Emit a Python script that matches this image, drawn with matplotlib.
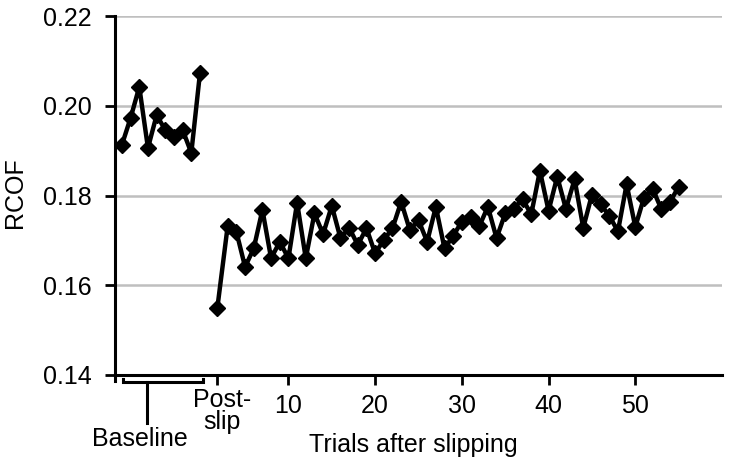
import numpy as np
import matplotlib
matplotlib.use("Agg")
import matplotlib.pyplot as plt
from matplotlib.transforms import blended_transform_factory

plt.rcParams['font.family'] = ['Liberation Sans', 'DejaVu Sans']

# ---- data ----
baseline_vals = [0.1913, 0.1973, 0.2042, 0.1906, 0.1979, 0.1946, 0.1930, 0.1946, 0.1895, 0.2073]
postslip_val = 0.1549
trial_vals = [0.1733, 0.1719, 0.1641, 0.1682, 0.1768, 0.1660, 0.1697, 0.1660, 0.1784, 0.1660,
              0.1760, 0.1714, 0.1777, 0.1705, 0.1728, 0.1690, 0.1727, 0.1671, 0.1701, 0.1727,
              0.1786, 0.1723, 0.1745, 0.1697, 0.1775, 0.1682, 0.1710, 0.1742, 0.1753, 0.1731,
              0.1775, 0.1705, 0.1760, 0.1771, 0.1792, 0.1758, 0.1855, 0.1766, 0.1842, 0.1770,
              0.1836, 0.1728, 0.1802, 0.1780, 0.1755, 0.1720, 0.1825, 0.1730, 0.1795, 0.1815,
              0.1770, 0.1785, 0.1820]
yticks = [0.14, 0.16, 0.18, 0.20, 0.22]
ytick_labels = ['0.14', '0.16', '0.18', '0.20', '0.22']
xticks_num = [10, 20, 30, 40, 50]
xtick_labels = ['10', '20', '30', '40', '50']

# positions
baseline_x = np.arange(len(baseline_vals)) - 9.2
postslip_x = 1.8
trial_x = np.arange(len(trial_vals)) + 3

W, H = 729, 467
fig = plt.figure(figsize=(W / 100, H / 100), dpi=100)
ax = fig.add_axes([115 / W, 1 - 375 / H, (722 - 115) / W, (375 - 16) / H])

ax.set_xlim(-10, 60)
ax.set_ylim(0.14, 0.22)

for y in [0.16, 0.18, 0.20, 0.22]:
    ax.axhline(y, color='#bfbfbf', lw=1.8, zorder=1)

lkw = dict(color='black', lw=3.2, marker='D', markersize=8.5, zorder=3)
ax.plot(baseline_x, baseline_vals, **lkw)
ax.plot(np.concatenate([[postslip_x], trial_x]), [postslip_val] + trial_vals, **lkw)

for s in ['top', 'right']:
    ax.spines[s].set_visible(False)
for s in ['left', 'bottom']:
    ax.spines[s].set_linewidth(2.2)
    ax.spines[s].set_color('black')

ax.set_yticks(yticks)
ax.set_yticklabels(ytick_labels, fontsize=18)
ax.tick_params(axis='y', length=7, width=2, direction='out', pad=10)

ax.set_xticks([postslip_x] + xticks_num)
ax.set_xticklabels([''] + xtick_labels, fontsize=18)
ax.tick_params(axis='x', length=7, width=2, direction='out', pad=7)

fig.text(15 / W, 1 - 193 / H, 'RCOF', rotation=90, ha='center', va='center', fontsize=18)

tr = blended_transform_factory(ax.transData, fig.transFigure)
def fy(py):
    return 1 - py / H

# small extension of the y axis below the x axis
ax.plot([-10, -10], [fy(375), fy(381)], transform=tr, color='black', lw=2.2, clip_on=False)

# Post-slip label
ax.text(2.3, fy(411), 'Post-\nslip', transform=tr, ha='center', va='center',
        fontsize=18, linespacing=0.85, clip_on=False)

# Baseline bracket
xb0 = -10 + (123 - 115) / 8.67
xb1 = -10 + (203 - 115) / 8.67
xv = -10 + (147 - 115) / 8.67
ax.plot([xb0, xb0, xb1, xb1], [fy(379), fy(382), fy(382), fy(379)], transform=tr,
        color='black', lw=2.2, clip_on=False, solid_joinstyle='miter')
ax.plot([xv, xv], [fy(382), fy(423)], transform=tr, color='black', lw=2.2, clip_on=False)
ax.text(-10 + (140 - 115) / 8.67, fy(439), 'Baseline', transform=tr, ha='center', va='center',
        fontsize=18, clip_on=False)

fig.text(413.5 / W, fy(445), 'Trials after slipping', ha='center', va='center', fontsize=18)

fig.savefig('out.png', dpi=100)
